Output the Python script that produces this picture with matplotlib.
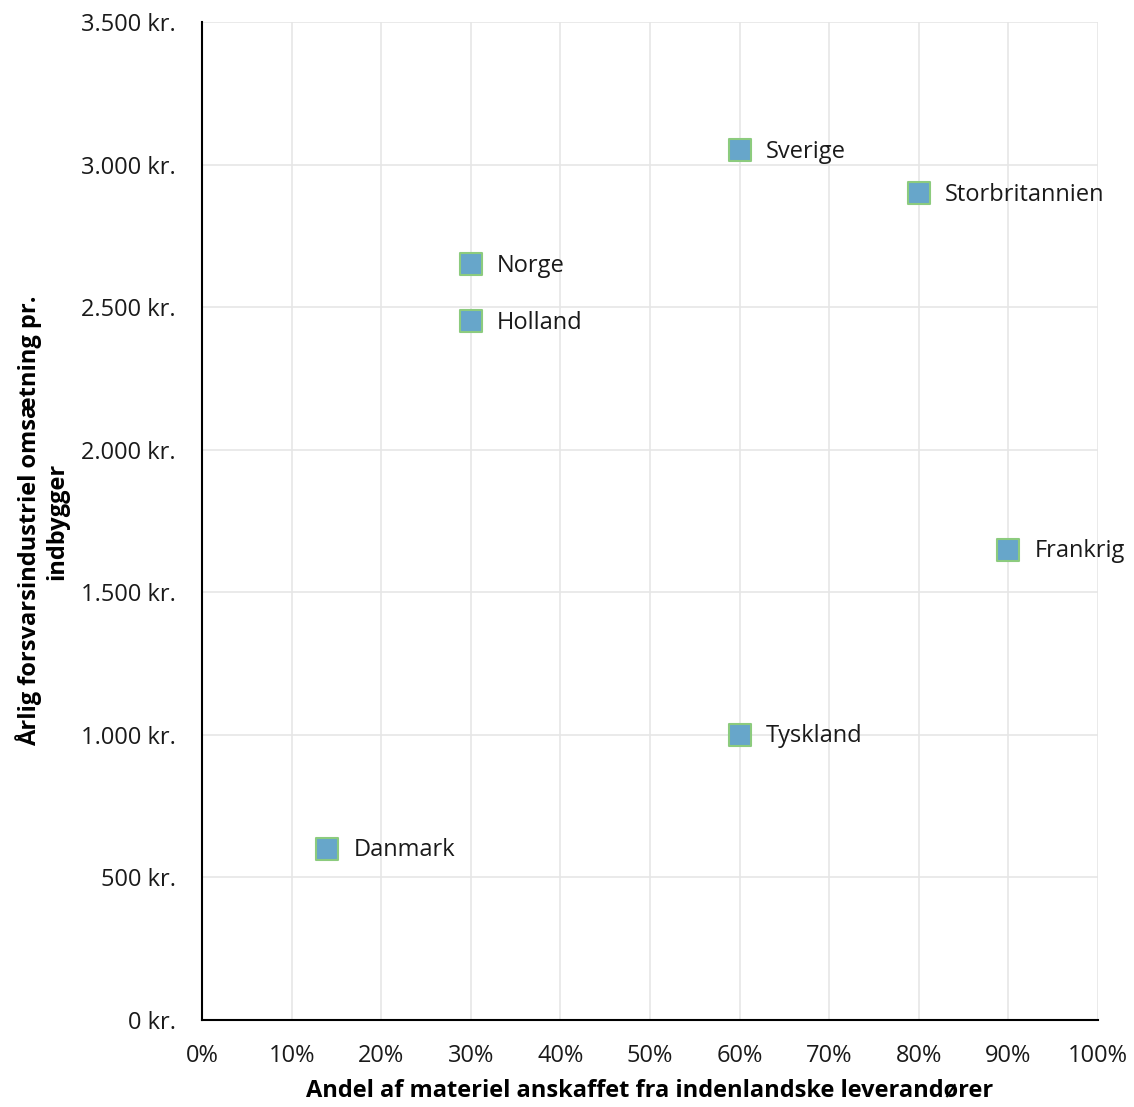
import matplotlib
matplotlib.use("Agg")
from matplotlib import pyplot as plt
from matplotlib.ticker import FuncFormatter, MultipleLocator

plt.rcParams['font.family'] = ['Open Sans', 'DejaVu Sans']

# data
lande = ["Danmark", "Tyskland", "Frankrig", "Storbritannien", "Sverige", "Norge", "Holland"]
andel = [0.14, 0.60, 0.90, 0.80, 0.60, 0.30, 0.30]
omsaetning = [600, 1000, 1650, 2900, 3050, 2650, 2450]

fig = plt.figure(figsize=(11.34, 11.07), dpi=100)
ax = fig.add_axes([0.1781, 0.0786, 0.7902, 0.9014])

ax.scatter(andel, omsaetning, marker="s", s=260, facecolor="#67A6CA",
           edgecolor="#8CCB7E", linewidth=1.5, zorder=3, clip_on=False)
for navn, x, y in zip(lande, andel, omsaetning):
    ax.annotate(navn, (x, y), xytext=(19, -1), textcoords="offset points",
                va="center", ha="left", fontsize=17, color="#1a1a1a")

ax.set_xlim(0, 1)
ax.set_ylim(0, 3500)
ax.xaxis.set_major_locator(MultipleLocator(0.1))
ax.yaxis.set_major_locator(MultipleLocator(500))
ax.xaxis.set_major_formatter(FuncFormatter(lambda v, p: "{:.0f}%".format(v * 100)))
ax.yaxis.set_major_formatter(FuncFormatter(lambda v, p: "{:,.0f} kr.".format(v).replace(",", ".")))

ax.grid(True, color="#e6e6e6", linewidth=1.2, zorder=0)
ax.set_axisbelow(True)
for s in ["top", "right"]:
    ax.spines[s].set_visible(False)
for s in ["left", "bottom"]:
    ax.spines[s].set_color("black")
    ax.spines[s].set_linewidth(1.5)
ax.tick_params(length=0, labelsize=17, colors="#1a1a1a")
ax.tick_params(axis="y", pad=19)
ax.tick_params(axis="x", pad=17)

ax.set_xlabel("Andel af materiel anskaffet fra indenlandske leverandører",
              fontsize=17, fontweight="bold", labelpad=8)
ax.set_ylabel("Årlig forsvarsindustriel omsætning pr.\nindbygger",
              fontsize=17, fontweight="bold", labelpad=8)

fig.savefig("out.png", dpi=100)
